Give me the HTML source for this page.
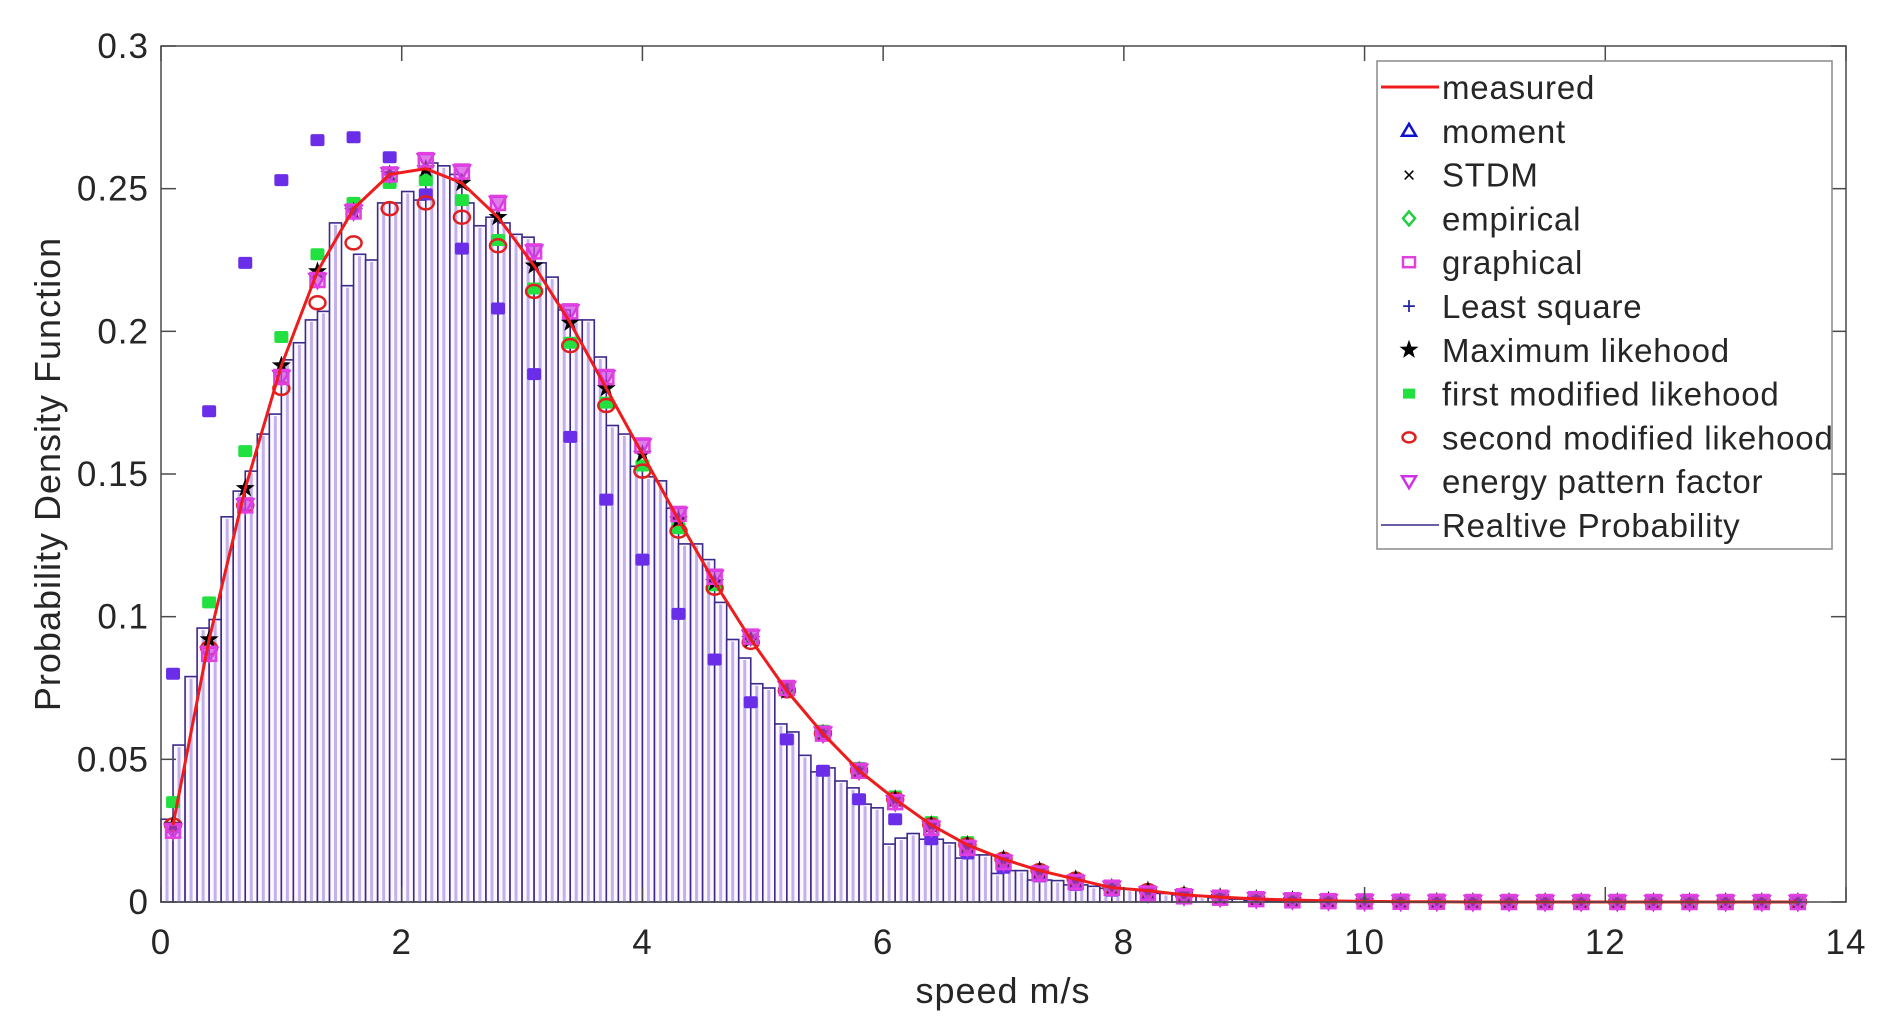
<!DOCTYPE html>
<html><head><meta charset="utf-8">
<style>
html,body{margin:0;padding:0;background:#fff;}
svg{display:block;font-family:"Liberation Sans",Arial,sans-serif;}
</style></head>
<body>
<svg id="chart" width="1888" height="1030" viewBox="0 0 1888 1030" xmlns="http://www.w3.org/2000/svg">
<rect x="0" y="0" width="1888" height="1030" fill="#fff"/>
<g id="plot"></g>
<g id="axes"></g>
<text x="1003" y="1003" font-size="36" letter-spacing="1" fill="#262626" text-anchor="middle">speed m/s</text>
<text transform="translate(60,474) rotate(-90)" font-size="36" letter-spacing="1" fill="#262626" text-anchor="middle">Probability Density Function</text>
<g id="legend"></g>
</svg>
<script>
// histogram bins (width 0.1 starting at 0)
const histValues = [0.029,0.055,0.079,0.096,0.099,0.135,0.144,0.151,0.164,0.171,
0.190,0.196,0.204,0.207,0.238,0.216,0.227,0.225,0.245,0.245,
0.249,0.246,0.259,0.258,0.255,0.245,0.237,0.240,0.238,0.234,
0.233,0.224,0.219,0.2075,0.204,0.204,0.191,0.167,0.164,0.1527,
0.149,0.1476,0.138,0.1255,0.1255,0.120,0.105,0.092,0.0855,0.0765,
0.075,0.0624,0.0596,0.0514,0.0456,0.047,0.0424,0.040,0.0343,0.033,
0.0203,0.0224,0.024,0.022,0.022,0.0207,0.0154,0.0165,0.0165,0.010,
0.011,0.011,0.0077,0.0077,0.0075,0.006,0.006,0.0055,0.0048,0.0048,
0.0045,0.004,0.003,0.003,0.0025,0.002,0.002,0.0015,0.001,0.001,
0.0005,0.0005,0.0005,0.0005,0.0005,0.0005];
const binWidth = 0.1;
// marker speeds
const speeds = [0.1,0.4,0.7,1.0,1.3,1.6,1.9,2.2,2.5,2.8,3.1,3.4,3.7,4.0,4.3,4.6,4.9,5.2,5.5,5.8,6.1,6.4,6.7,7.0,7.3,7.6,7.9,8.2,8.5,8.8,9.1,9.4,9.7,10.0,10.3,10.6,10.9,11.2,11.5,11.8,12.1,12.4,12.7,13.0,13.3,13.6];
const measured = [0.027,0.092,0.145,0.188,0.221,0.243,0.255,0.257,0.252,0.240,0.223,0.203,0.180,0.157,0.134,0.112,0.092,0.074,0.059,0.046,0.036,0.027,0.020,0.015,0.011,0.008,0.005,0.004,0.0025,0.0017,0.0011,0.0007,0.0004,0.0002,0.0001,0.0001,0,0,0,0,0,0,0,0,0,0];
const maxLike = [0.027,0.092,0.145,0.188,0.221,0.242,0.255,0.257,0.252,0.240,0.223,0.203,0.180,0.157,0.134,0.112,0.092,0.074,0.059,0.046,0.036,0.027,0.020,0.015,0.011,0.008,0.005,0.004,0.0025,0.0017,0.0011,0.0007,0.0004,0.0002,0.0001,0.0001,0,0,0,0,0,0,0,0,0,0];
const firstMod = [0.035,0.105,0.158,0.198,0.227,0.245,0.252,0.253,0.246,0.232,0.215,0.196,0.175,0.153,0.131,0.111,0.092,0.075,0.060,0.047,0.037,0.028,0.021,0.015,0.011,0.008,0.005,0.004,0.0025,0.0017,0.0011,0.0007,0.0004,0.0002,0.0001,0.0001,0,0,0,0,0,0,0,0,0,0];
const secondMod = [0.027,0.089,0.139,0.180,0.210,0.231,0.243,0.245,0.240,0.230,0.214,0.195,0.174,0.151,0.130,0.110,0.091,0.074,0.059,0.046,0.036,0.027,0.020,0.015,0.011,0.008,0.005,0.004,0.0025,0.0017,0.0011,0.0007,0.0004,0.0002,0.0001,0.0001,0,0,0,0,0,0,0,0,0,0];
const energyPF = [0.025,0.087,0.139,0.184,0.218,0.242,0.255,0.260,0.256,0.245,0.228,0.207,0.184,0.160,0.136,0.114,0.093,0.075,0.059,0.046,0.035,0.026,0.019,0.014,0.010,0.007,0.005,0.003,0.002,0.0015,0.001,0.0006,0.0003,0.0002,0.0001,0.0001,0,0,0,0,0,0,0,0,0,0];
const leastSq = [0.080,0.172,0.224,0.253,0.267,0.268,0.261,0.248,0.229,0.208,0.185,0.163,0.141,0.120,0.101,0.085,0.070,0.057,0.046,0.036,0.029,0.022,0.017,0.012,0.009,0.006,0.004,0.003,0.002,0.0012,0.0008,0.0005,0.0003,0.0002,0.0001,0,0,0,0,0,0,0,0,0,0,0];
const xTicks = [0,2,4,6,8,10,12,14];
const yTicks = [0,0.05,0.1,0.15,0.2,0.25,0.3];
const yTickLabels = ["0","0.05","0.1","0.15","0.2","0.25","0.3"];

const L=161,R=1846,T=46,B=902;
const xMax=14,yMax=0.3;
function sx(v){return L+(v/xMax)*(R-L);}
function sy(v){return B-(v/yMax)*(B-T);}
const NS="http://www.w3.org/2000/svg";
function mk(tag,attrs,parent){const e=document.createElementNS(NS,tag);for(const k in attrs)e.setAttribute(k,attrs[k]);parent.appendChild(e);return e;}
const plot=document.getElementById('plot');
const axes=document.getElementById('axes');

// histogram
histValues.forEach((v,i)=>{
  const x0=sx(i*binWidth), x1=sx((i+1)*binWidth);
  const r=mk('rect',{x:x0,y:sy(v),width:x1-x0,height:B-sy(v),fill:'#fdf8ff',stroke:'#3a2a8a','stroke-width':1.6},plot);
  
  
  const s=mk('line',{x1:(x0+x1)/2,x2:(x0+x1)/2,y1:sy(v)+2,y2:B,stroke:'#c2b2ec','stroke-width':3},plot);
  
  
});

function marker(shape,color,cx,cy,parent,fill){
  let e;
  const r=7;
  if(shape==='square'){e=mk('rect',{x:cx-r,y:cy-r,width:2*r,height:2*r,fill:fill||'none',stroke:color,'stroke-width':2.5},parent);}
  else if(shape==='circle'){e=mk('ellipse',{cx:cx,cy:cy,rx:8,ry:6.5,fill:fill||'none',stroke:color,'stroke-width':2.5},parent);}
  else if(shape==='tridown'){e=mk('polygon',{points:`${cx-8},${cy-6} ${cx+8},${cy-6} ${cx},${cy+8}`,fill:fill||'none',stroke:color,'stroke-width':2.5},parent);}
  else if(shape==='star'){let p=[];for(let k=0;k<10;k++){const a=-Math.PI/2+k*Math.PI/5;const rr=k%2?4:10;p.push((cx+rr*Math.cos(a)).toFixed(1)+','+(cy+rr*Math.sin(a)).toFixed(1));}e=mk('polygon',{points:p.join(' '),fill:color},parent);}
  else if(shape==='dot'){e=mk('rect',{x:cx-7,y:cy-6,width:14,height:12,rx:2,fill:color},parent);}
  return e;
}
// scatter series
const gLS=mk('g',{},plot);
speeds.forEach((s,i)=>{const e=marker('dot','#6a2ee8',sx(s),sy(leastSq[i]),gLS);});
const gF=mk('g',{},plot);
speeds.forEach((s,i)=>{const e=marker('dot','#22e040',sx(s),sy(firstMod[i]),gF);});
const gS=mk('g',{},plot);
speeds.forEach((s,i)=>{const e=marker('circle','#e02020',sx(s),sy(secondMod[i]),gS);});
const gM=mk('g',{},plot);
speeds.forEach((s,i)=>{const e=marker('star','#000',sx(s),sy(maxLike[i]),gM);});
const gE=mk('g',{},plot);
speeds.forEach((s,i)=>{const e=marker('tridown','#d030e8',sx(s),sy(energyPF[i]),gE,'rgba(200,60,230,0.55)');
const q=marker('square','#e040e0',sx(s),sy(energyPF[i]),gE,'rgba(220,80,220,0.35)');});
// measured line
const pts=speeds.map((s,i)=>sx(s).toFixed(1)+','+sy(measured[i]).toFixed(1)).join(' ');
const ml=mk('polyline',{points:pts,fill:'none',stroke:'#ee1c1c','stroke-width':3},plot);



// axes box and ticks
const box=mk('rect',{x:L,y:T,width:R-L,height:B-T,fill:'none',stroke:'#4a4a4a','stroke-width':1.5},axes);


xTicks.forEach(v=>{
  const x=sx(v);
  mk('line',{x1:x,x2:x,y1:B,y2:B-15,stroke:'#4a4a4a','stroke-width':1.5},axes);
  mk('line',{x1:x,x2:x,y1:T,y2:T+15,stroke:'#4a4a4a','stroke-width':1.5},axes);
  const t=mk('text',{x:x,y:954,'font-size':35,'letter-spacing':1,fill:'#262626','text-anchor':'middle'},axes);
  t.textContent=String(v);
  
  
});
yTicks.forEach((v,i)=>{
  const y=sy(v);
  mk('line',{x1:L,x2:L+15,y1:y,y2:y,stroke:'#4a4a4a','stroke-width':1.5},axes);
  mk('line',{x1:R,x2:R-15,y1:y,y2:y,stroke:'#4a4a4a','stroke-width':1.5},axes);
  const t=mk('text',{x:149,y:y+12,'font-size':35,'letter-spacing':1,fill:'#262626','text-anchor':'end'},axes);
  t.textContent=yTickLabels[i];
  
  
});

// legend
const leg=document.getElementById('legend');
const lb=mk('rect',{x:1377,y:61,width:455,height:488,fill:'#fff',stroke:'#8a8a8a','stroke-width':1.5},leg);


const legLabels=["measured","moment","STDM","empirical","graphical","Least square","Maximum likehood","first modified likehood","second modified likehood","energy pattern factor","Realtive Probability"];
legLabels.forEach((lab,i)=>{
  const y=87+i*43.8, cx=1409;
  const g=mk('g',{},leg);
  
  
  if(i===0) mk('line',{x1:1381,x2:1439,y1:y,y2:y,stroke:'#ee1c1c','stroke-width':3},g);
  else if(i===10) mk('line',{x1:1381,x2:1439,y1:y,y2:y,stroke:'#3a2a8a','stroke-width':1.5},g);
  else if(i===1) mk('polygon',{points:`${cx-7},${y+5} ${cx+7},${y+5} ${cx},${y-7}`,fill:'none',stroke:'#1010d0','stroke-width':2.5},g);
  else if(i===2) mk('text',{x:cx,y:y+8,'font-size':22,'text-anchor':'middle',fill:'#000'},g).textContent='×';
  else if(i===3) mk('polygon',{points:`${cx},${y-7} ${cx+6},${y} ${cx},${y+7} ${cx-6},${y}`,fill:'none',stroke:'#22d040','stroke-width':2.5},g);
  else if(i===4) mk('rect',{x:cx-6,y:y-5,width:12,height:10,fill:'none',stroke:'#e040e0','stroke-width':2.5},g);
  else if(i===5) mk('text',{x:cx,y:y+8,'font-size':24,'text-anchor':'middle',fill:'#2020a0'},g).textContent='+';
  else if(i===6) marker('star','#000',cx,y,g);
  else if(i===7) mk('rect',{x:cx-6,y:y-5,width:12,height:10,fill:'#22e040'},g);
  else if(i===8) mk('ellipse',{cx:cx,cy:y,rx:6.5,ry:5,fill:'none',stroke:'#e02020','stroke-width':2.5},g);
  else if(i===9) mk('polygon',{points:`${cx-7},${y-5} ${cx+7},${y-5} ${cx},${y+7}`,fill:'none',stroke:'#d030e8','stroke-width':2.5},g);
  const t=mk('text',{x:1442,y:y+12,'font-size':33,'letter-spacing':0.8,fill:'#262626'},g);
  t.textContent=lab;
});
</script>
</body></html>
